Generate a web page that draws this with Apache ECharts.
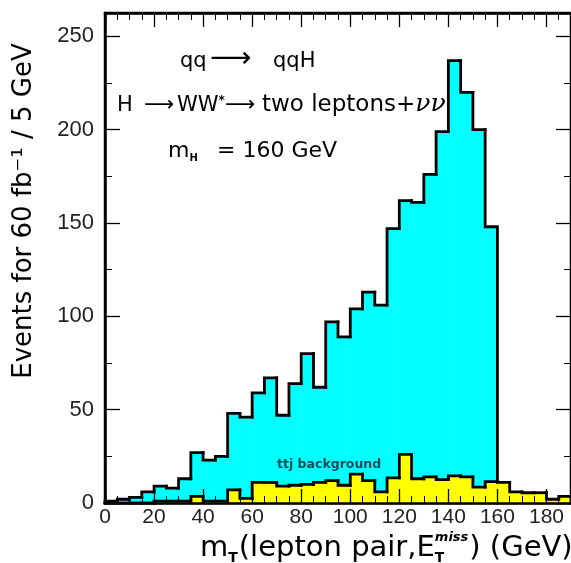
<!DOCTYPE html>
<html>
<head>
<meta charset="utf-8">
<script src="https://cdn.jsdelivr.net/npm/echarts@6/dist/echarts.min.js"></script>
<style>
html,body{margin:0;padding:0;background:#fff;}
#chart{width:571px;height:563px;}
</style>
</head>
<body>
<div id="chart"></div>
<script>
// ---- data ----
const binEdges = [0,5,10,15,20,25,30,35,40,45,50,55,60,65,70,75,80,85,90,95,100,105,110,115,120,125,130,135,140,145,150,155,160,165,170,175,180,185,190];
// signal qq -> qqH, H -> WW* (bins 0-160 GeV)
const signalCounts = [1,2,3,6,9,8,13,27,23,25,48,46,59,67,47,64,80,62,97,89,104,113,106,147,162,161,176,199,237,220,200,148];
// ttj background (bins 0-190 GeV)
const ttjCounts = [0,0,0,0,1,1,1,3.5,1,1,7,2.5,11,11,9,9.5,10,11,12,9.5,15.5,12,6,13.5,26,13,14,12.5,14.5,14,8.5,11.5,11,6,5.5,5.5,2,3.5];
const xTickLabels = [0,20,40,60,80,100,120,140,160,180];
const yTickLabels = [0,50,100,150,200,250];

// bins as [x0, x1, count, previousCount, isLast]
function binItems(edges, counts) {
  return counts.map((c, i) => [edges[i], edges[i + 1], c, i === 0 ? 0 : counts[i - 1], i === counts.length - 1 ? 1 : 0]);
}

const chart = echarts.init(document.getElementById('chart'), null, {renderer: 'canvas'});

const TF = '"DejaVu Sans", sans-serif';
const LF = '"Liberation Sans", Arial, sans-serif';

const baseX = {
  type: 'value', min: 0, max: 190, gridIndex: 0, z: 10,
  splitLine: {show: false}, minorSplitLine: {show: false}
};
const baseY = {
  type: 'value', min: 0, max: 262.5, gridIndex: 0, z: 10,
  splitLine: {show: false}, minorSplitLine: {show: false}
};
const lineBlack = {show: true, onZero: false, lineStyle: {color: '#000', width: 2.5}};

const xAxes = [
  Object.assign({}, baseX, {position: 'bottom', interval: 20,
    axisLine: lineBlack,
    axisTick: {show: true, inside: true, length: 14, lineStyle: {color: '#000', width: 1.3}},
    axisLabel: {show: true, fontSize: 21, fontFamily: LF, color: '#222', margin: 4, showMaxLabel: false,
      formatter: v => xTickLabels.indexOf(v) >= 0 ? String(v) : ''}}),
  Object.assign({}, baseX, {position: 'bottom', interval: 5,
    axisLine: {show: false, onZero: false},
    axisTick: {show: true, inside: true, length: 7, lineStyle: {color: '#000', width: 1}},
    axisLabel: {show: false}}),
  Object.assign({}, baseX, {position: 'top', interval: 20,
    axisLine: lineBlack,
    axisTick: {show: true, inside: true, length: 14, lineStyle: {color: '#000', width: 1.3}},
    axisLabel: {show: false}}),
  Object.assign({}, baseX, {position: 'top', interval: 5,
    axisLine: {show: false, onZero: false},
    axisTick: {show: true, inside: true, length: 7, lineStyle: {color: '#000', width: 1}},
    axisLabel: {show: false}})
];
const yAxes = [
  Object.assign({}, baseY, {position: 'left', interval: 50,
    axisLine: lineBlack,
    axisTick: {show: true, inside: true, length: 15, lineStyle: {color: '#000', width: 1.3}},
    axisLabel: {show: true, fontSize: 22, fontFamily: LF, color: '#222', margin: 11, showMaxLabel: false,
      formatter: v => yTickLabels.indexOf(v) >= 0 ? String(v) : ''}}),
  Object.assign({}, baseY, {position: 'left', interval: 25,
    axisLine: {show: false, onZero: false},
    axisTick: {show: true, inside: true, length: 7, lineStyle: {color: '#000', width: 1}},
    axisLabel: {show: false}}),
  Object.assign({}, baseY, {position: 'right', interval: 50,
    axisLine: lineBlack,
    axisTick: {show: true, inside: true, length: 15, lineStyle: {color: '#000', width: 1.3}},
    axisLabel: {show: false}}),
  Object.assign({}, baseY, {position: 'right', interval: 25,
    axisLine: {show: false, onZero: false},
    axisTick: {show: true, inside: true, length: 7, lineStyle: {color: '#000', width: 1}},
    axisLabel: {show: false}})
];

// ---- histogram renderers ----
function fillRenderer(color) {
  return function (params, api) {
    const p0 = api.coord([api.value(0), api.value(2)]);
    const p1 = api.coord([api.value(1), 0]);
    return {
      type: 'rect',
      shape: {x: p0[0], y: p0[1], width: p1[0] - p0[0] + 0.5, height: p1[1] - p0[1]},
      style: {fill: color, stroke: null}
    };
  };
}
function outlineRenderer(params, api) {
  const x0 = api.value(0), x1 = api.value(1), y = api.value(2), yp = api.value(3), last = api.value(4);
  const pts = [api.coord([x0, yp]), api.coord([x0, y]), api.coord([x1, y])];
  if (last) pts.push(api.coord([x1, 0]));
  return {
    type: 'polyline',
    shape: {points: pts},
    style: {stroke: '#000', lineWidth: 2.8, fill: null, lineJoin: 'miter', lineCap: 'square'}
  };
}
function histSeries(name, items, renderItem, z) {
  return {
    name: name, type: 'custom', xAxisIndex: 0, yAxisIndex: 0, z: z,
    renderItem: renderItem, data: items, encode: {x: [0, 1], y: 2}, silent: true
  };
}

// ---- text layout helpers ----
const mctx = document.createElement('canvas').getContext('2d');
function fontStr(size, extra) {
  extra = extra || {};
  return (extra.italic ? 'italic' : 'normal') + ' ' + (extra.weight || 'normal') + ' ' + size + 'px ' + (extra.family || TF);
}
function tw(text, font) { mctx.font = font; return mctx.measureText(text).width; }
function piece(text, x, baseline, size, extra) {
  extra = extra || {};
  return {
    type: 'text', x: x, y: baseline - 0.3 * size, z: 100, silent: true,
    style: {
      text: text, fill: extra.color || '#000', font: fontStr(size, extra),
      align: 'left', verticalAlign: 'middle', textAlign: 'left', textVerticalAlign: 'middle'
    }
  };
}

const graphics = [];
// x-axis title: m_T(lepton pair,E_T^miss) (GeV)
(function () {
  const S = 29, B = 557;
  let x = 200;
  graphics.push(piece('m', x, B, S)); x += tw('m', fontStr(S));
  graphics.push(piece('T', x, B + 6, 14, {weight: 'bold'})); x += tw('T', fontStr(14, {weight: 'bold'})) + 1;
  graphics.push(piece('(lepton pair,E', x, B, S)); x += tw('(lepton pair,E', fontStr(S));
  graphics.push(piece('T', x, B + 6, 14, {weight: 'bold'}));
  graphics.push(piece('miss', x, B - 15, 13, {weight: 'bold', italic: true}));
  x += tw('miss', fontStr(13, {weight: 'bold', italic: true})) + 1;
  graphics.push(piece(') (GeV)', x, B, S));
})();

// y-axis title
graphics.push({
  type: 'text', x: 24, y: 211, rotation: Math.PI / 2, z: 100, silent: true,
  style: {text: 'Events for 60 fb\u207B\u00B9 / 5 GeV', fill: '#000', font: fontStr(26),
    align: 'center', verticalAlign: 'middle', textAlign: 'center', textVerticalAlign: 'middle'}
});

// annotations
(function () {
  const S = 21;
  // line 1
  graphics.push(piece('qq', 180, 68, S));
  graphics.push(piece('\u27F6', 210, 68, S + 8));
  graphics.push(piece('qqH', 273, 68, S));
  // line 2
  graphics.push(piece('H', 117, 112, S));
  graphics.push(piece('\u27F6', 144, 112, S));
  graphics.push(piece('WW', 177, 112, S));
  graphics.push(piece('*', 177 + tw('WW', fontStr(S)), 104, 12, {weight: 'bold'}));
  graphics.push(piece('\u27F6', 225, 112, S));
  graphics.push(piece('two leptons+', 262, 112, 23));
  graphics.push(piece('\u03BD\u03BD', 262 + tw('two leptons+', fontStr(23)), 112, 25, {italic: true, family: '"DejaVu Serif", serif'}));
  // line 3
  graphics.push(piece('m', 168, 158, S + 1));
  graphics.push(piece('H', 168 + tw('m', fontStr(S + 1)), 161, 10, {weight: 'bold'}));
  graphics.push(piece('= 160 GeV', 217, 158, S + 1));
  // ttj background label
  graphics.push(piece('ttj background', 277, 468, 12.5, {weight: 'bold', color: '#0c4a55'}));
})();

const option = {
  animation: false,
  backgroundColor: '#fff',
  grid: {left: 105, right: 0, top: 13, bottom: 60, show: true, borderColor: '#000', borderWidth: 2.5,
    containLabel: false, outerBoundsMode: 'none'},
  xAxis: xAxes,
  yAxis: yAxes,
  series: [
    histSeries('signal fill', binItems(binEdges, signalCounts), fillRenderer('#00ffff'), 2),
    histSeries('signal outline', binItems(binEdges, signalCounts), outlineRenderer, 3),
    histSeries('ttj fill', binItems(binEdges, ttjCounts), fillRenderer('#ffff00'), 4),
    histSeries('ttj outline', binItems(binEdges, ttjCounts), outlineRenderer, 5)
  ],
  graphic: graphics
};
chart.setOption(option);
</script>
</body>
</html>
